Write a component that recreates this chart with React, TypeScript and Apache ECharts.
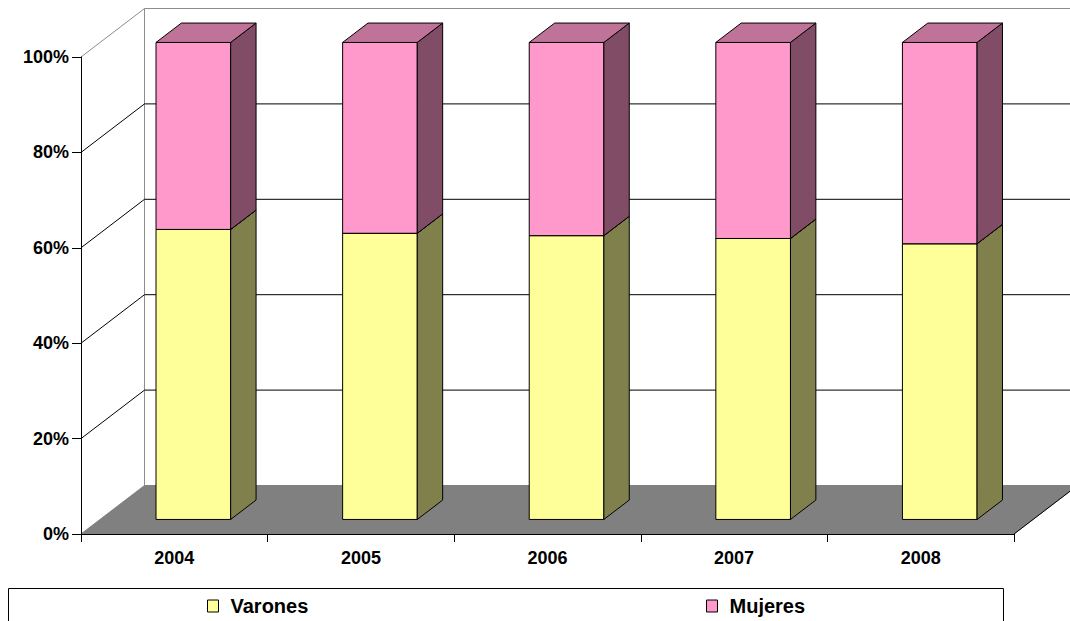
import React, { useEffect, useRef } from "react";
import * as echarts from "echarts";

// ---- data ----
const categories = ["2004", "2005", "2006", "2007", "2008"];
const varones = [60.8, 60.0, 59.5, 58.9, 57.8];
const mujeres = [39.2, 40.0, 40.5, 41.1, 42.2];
const yTicks = [0, 20, 40, 60, 80, 100];
const seriesNames = ["Varones", "Mujeres"];

// ---- styles / 3D geometry ----
const DX = 63.5;
const DY = -48.5;
const D0 = 0.3;
const D1 = 0.7;
const BAR_RATIO = 0.4;
const FONT = "'Liberation Sans', Arial, sans-serif";
const FLOOR = "#808080";
const WALL_EDGE = "#8c8c8c";
const GRID = "#000000";
const COLORS = [
  { front: "#FFFF99", side: "#80804C", top: "#BFBF73" },
  { front: "#FF99CC", side: "#804C66", top: "#BF7399" },
];

const pct = (a: number, b: number) => (a / (a + b)) * 100;

function renderWalls(params: any, api: any) {
  const v = api.value(1);
  const cs = params.coordSys;
  const x0 = cs.x;
  const x1 = cs.x + cs.width;
  const y = api.coord([0, v])[1];
  const children: any[] = [];
  if (v === 0) {
    const yTop = api.coord([0, 100])[1];
    children.push({
      type: "line",
      shape: { x1: x0 + DX, y1: yTop + DY, x2: x0 + DX, y2: y + DY },
      style: { stroke: WALL_EDGE, lineWidth: 1 },
    });
    children.push({
      type: "polygon",
      shape: { points: [[x0, y], [x1, y], [x1 + DX, y + DY], [x0 + DX, y + DY]] },
      style: { fill: FLOOR, stroke: FLOOR, lineWidth: 1 },
    });
    children.push({
      type: "line",
      shape: { x1: x1, y1: y, x2: x1 + DX, y2: y + DY },
      style: { stroke: "#000", lineWidth: 1 },
    });
  } else {
    const c = v === 100 ? WALL_EDGE : GRID;
    children.push({
      type: "line",
      shape: { x1: x0, y1: y, x2: x0 + DX, y2: y + DY },
      style: { stroke: c, lineWidth: 1 },
    });
    children.push({
      type: "line",
      shape: { x1: x0 + DX, y1: y + DY, x2: x1 + DX, y2: y + DY },
      style: { stroke: c, lineWidth: 1 },
    });
  }
  return { type: "group", children };
}

function makeBarRenderer(col: { front: string; side: string; top: string }) {
  return (params: any, api: any) => {
    const i = api.value(0);
    const a = api.value(1);
    const b = api.value(2);
    const pa = api.coord([i, a]);
    const pb = api.coord([i, b]);
    const band = api.size([1, 0])[0];
    const w = band * BAR_RATIO;
    const xl = pa[0] - w / 2 + DX * D0;
    const xr = xl + w;
    const yb = pa[1] + DY * D0;
    const yt = pb[1] + DY * D0;
    const ddx = DX * (D1 - D0);
    const ddy = DY * (D1 - D0);
    const edge = { stroke: "#000", lineWidth: 1, lineJoin: "miter" };
    return {
      type: "group",
      children: [
        {
          type: "polygon",
          shape: { points: [[xl, yt], [xr, yt], [xr, yb], [xl, yb]] },
          style: { fill: col.front, ...edge },
        },
        {
          type: "polygon",
          shape: { points: [[xr, yb], [xr + ddx, yb + ddy], [xr + ddx, yt + ddy], [xr, yt]] },
          style: { fill: col.side, ...edge },
        },
        {
          type: "polygon",
          shape: { points: [[xl, yt], [xr, yt], [xr + ddx, yt + ddy], [xl + ddx, yt + ddy]] },
          style: { fill: col.top, ...edge },
        },
      ],
    };
  };
}

export default function App() {
  const ref = useRef<HTMLDivElement>(null);
  useEffect(() => {
    if (!ref.current) return;
    const chart = echarts.init(ref.current, null, { renderer: "svg" });
    const vData = categories.map((_, i) => [i, 0, pct(varones[i], mujeres[i])]);
    const mData = categories.map((_, i) => [i, pct(varones[i], mujeres[i]), 100]);
    const legendCommon = {
      top: 596,
      padding: 0,
      icon: "rect",
      itemWidth: 11,
      itemHeight: 12,
      itemStyle: { borderColor: "#000", borderWidth: 1 },
      textStyle: {
        fontFamily: FONT,
        fontWeight: "bold",
        fontSize: 20,
        color: "#000",
        padding: [0, 0, 0, 7],
        lineHeight: 20,
      },
      selectedMode: false,
    };
    chart.setOption({
      animation: false,
      backgroundColor: "#fff",
      grid: { left: 81, top: 57, width: 933, height: 477, containLabel: false },
      xAxis: {
        type: "category",
        data: categories,
        boundaryGap: true,
        z: 5,
        axisLine: { show: true, lineStyle: { color: "#000", width: 1 } },
        axisTick: { show: true, length: 8, lineStyle: { color: "#000" } },
        axisLabel: {
          fontFamily: FONT,
          fontWeight: "bold",
          fontSize: 18,
          color: "#000",
          margin: 15,
        },
        splitLine: { show: false },
      },
      yAxis: {
        type: "value",
        min: 0,
        max: 100,
        interval: 20,
        z: 5,
        axisLine: { show: true, lineStyle: { color: "#000", width: 1 } },
        axisTick: { show: true, length: 9, lineStyle: { color: "#000" } },
        axisLabel: {
          formatter: "{value}%",
          fontFamily: FONT,
          fontWeight: "bold",
          fontSize: 18,
          color: "#000",
          margin: 12,
        },
        splitLine: { show: false },
      },
      legend: [
        { ...legendCommon, left: 207, data: [seriesNames[0]] },
        { ...legendCommon, left: 706, data: [seriesNames[1]] },
      ],
      graphic: [
        {
          type: "rect",
          shape: { x: 8.5, y: 588.5, width: 995, height: 40 },
          style: { fill: "none", stroke: "#000", lineWidth: 1 },
          z: -1,
        },
      ],
      series: [
        {
          type: "custom",
          name: "walls",
          silent: true,
          z: 1,
          renderItem: renderWalls,
          data: yTicks.map((v) => [0, v]),
          encode: { x: 0, y: 1 },
        },
        {
          type: "custom",
          name: seriesNames[0],
          z: 2,
          itemStyle: { color: COLORS[0].front },
          renderItem: makeBarRenderer(COLORS[0]),
          data: vData,
          encode: { x: 0, y: [1, 2] },
        },
        {
          type: "custom",
          name: seriesNames[1],
          z: 2,
          itemStyle: { color: COLORS[1].front },
          renderItem: makeBarRenderer(COLORS[1]),
          data: mData,
          encode: { x: 0, y: [1, 2] },
        },
      ],
    });
    return () => chart.dispose();
  }, []);
  return (
    <div
      ref={ref}
      style={{ position: "absolute", left: 0, top: 0, width: 1070, height: 621 }}
    />
  );
}
